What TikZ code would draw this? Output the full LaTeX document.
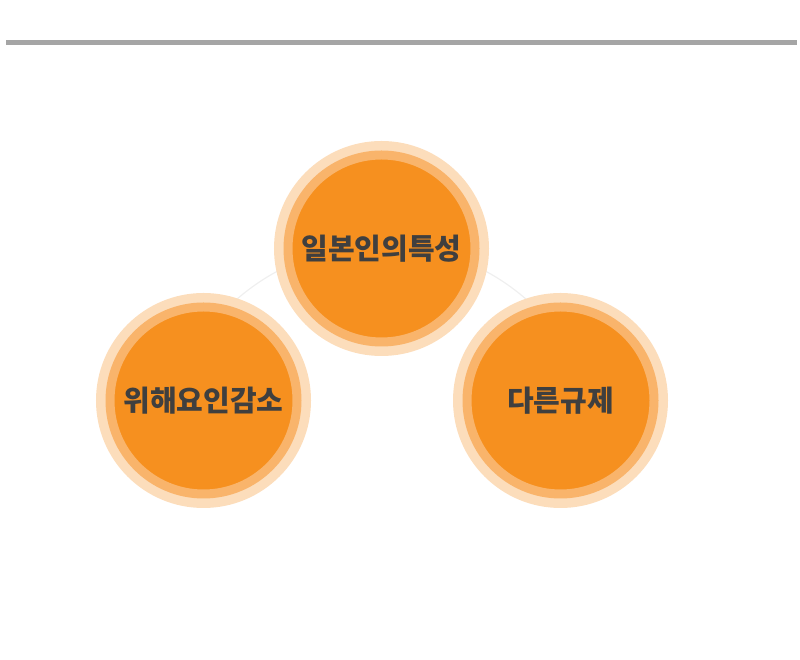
\documentclass[tikz,border=0pt]{standalone}
\usepackage{fontspec}
\newfontfamily\kr{Noto Sans CJK KR}
\definecolor{inner}{HTML}{F6901F}
\definecolor{midring}{HTML}{F9B46B}
\definecolor{outring}{HTML}{FCDDBB}
\definecolor{txt}{HTML}{3F3F3F}
\definecolor{bar}{HTML}{A5A5A5}
\definecolor{link}{HTML}{EFEFEF}
\tikzset{
  bubble/.style={circle, inner sep=0pt, outer sep=0pt, minimum size=187pt,
    fill=inner, draw=midring, line width=9pt,
    preaction={draw=outring, line width=28pt},
    text=txt, font=\kr\bfseries\fontsize{29}{32}\selectfont},
  linkline/.style={draw=link, line width=1.2pt}
}
\begin{document}
\begin{tikzpicture}[x=1pt,y=1pt]
\useasboundingbox (0,0) rectangle (800,660);
\fill[bar] (6,615) rectangle (797,620);
\coordinate (arcc) at (381.5,195);
\draw[linkline] (arcc) ++(140:220) arc[start angle=140, end angle=40, radius=220];
\node[bubble] (T) at (381.5,411.5) {일본인의특성};
\node[bubble] (L) at (203.5,259.5) {위해요인감소};
\node[bubble] (R) at (560.5,259.5) {다른규제};
\end{tikzpicture}
\end{document}
